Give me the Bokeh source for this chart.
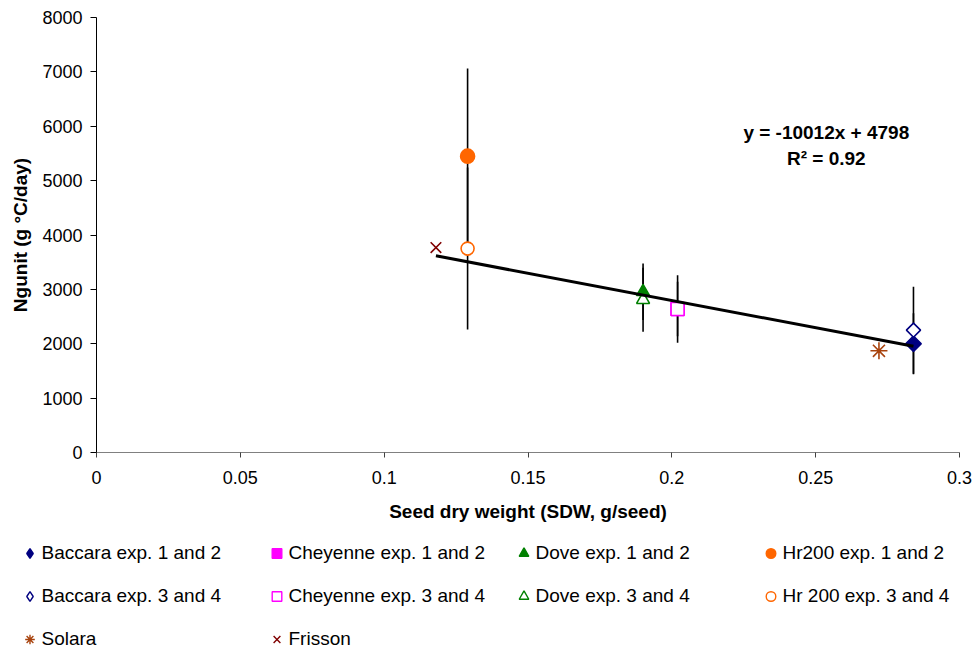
import math
from bokeh.plotting import figure
from bokeh.layouts import column
from bokeh.models import FixedTicker, Range1d, Legend, LegendItem, Label
from bokeh.embed import file_html
from bokeh.resources import INLINE

# ---- data ----
series_names = ["Baccara exp. 1 and 2", "Cheyenne exp. 1 and 2", "Dove exp. 1 and 2", "Hr200 exp. 1 and 2",
                "Baccara exp. 3 and 4", "Cheyenne exp. 3 and 4", "Dove exp. 3 and 4", "Hr 200 exp. 3 and 4",
                "Solara", "Frisson"]
sdw = [0.284, 0.202, 0.190, 0.129, 0.284, 0.202, 0.190, 0.129, 0.272, 0.118]
ngunit = [2000, 2640, 2955, 5450, 2250, 2640, 2810, 3750, 1870, 3770]
ngunit_err = [560, 620, 520, 1610, 800, 500, 590, 1490, 0, 0]

reg_slope = -10012
reg_intercept = 4798
reg_text = ["y = -10012x + 4798", "R\u00b2 = 0.92"]

x_ticks = [0, 0.05, 0.1, 0.15, 0.2, 0.25, 0.3]
x_tick_labels = ["0", "0.05", "0.1", "0.15", "0.2", "0.25", "0.3"]
y_ticks = [0, 1000, 2000, 3000, 4000, 5000, 6000, 7000, 8000]

# ---- styles ----
NAVY, MAG, GRN, ORG, SOL, FRI = "#000080", "#FF00FF", "#008000", "#FF6600", "#A8430E", "#800000"
styles = [
    dict(marker="square", legend_marker="diamond", size=11, fill_color=NAVY, line_color=NAVY, angle=math.pi / 4),
    dict(marker="square", legend_marker="square", size=13, fill_color=MAG, line_color=MAG, angle=0),
    dict(marker="triangle", legend_marker="triangle", size=13, fill_color=GRN, line_color=GRN, angle=0),
    dict(marker="circle", legend_marker="circle", size=14, fill_color=ORG, line_color=ORG, angle=0),
    dict(marker="square", legend_marker="diamond", size=10, fill_color="white", line_color=NAVY, angle=math.pi / 4),
    dict(marker="square", legend_marker="square", size=13, fill_color="white", line_color=MAG, angle=0),
    dict(marker="triangle", legend_marker="triangle", size=13, fill_color="white", line_color=GRN, angle=0),
    dict(marker="circle", legend_marker="circle", size=13, fill_color="white", line_color=ORG, angle=0),
    dict(marker="asterisk", legend_marker="asterisk", size=17, fill_color=None, line_color=SOL, angle=0),
    dict(marker="x", legend_marker="x", size=15, fill_color=None, line_color=FRI, angle=0),
]
draw_order = [0, 1, 6, 2, 3, 4, 5, 7, 8, 9]

FONT = "Liberation Sans"

p = figure(width=973, height=530, output_backend="svg", toolbar_location=None,
           x_range=Range1d(0, 0.3), y_range=Range1d(0, 8000),
           min_border_left=96, min_border_right=14, min_border_top=17, min_border_bottom=78)
p.frame_align = False
p.outline_line_color = None
p.xgrid.visible = False
p.ygrid.visible = False

# axes
p.xaxis.ticker = FixedTicker(ticks=x_ticks)
p.xaxis.major_label_overrides = dict(zip(x_ticks, x_tick_labels))
p.yaxis.ticker = FixedTicker(ticks=y_ticks)
for ax in (p.xaxis, p.yaxis):
    ax.minor_tick_line_color = None
    ax.major_tick_in = 0
    ax.major_label_text_font = FONT
    ax.major_label_text_font_size = "18px"
    ax.major_label_text_color = "black"
    ax.axis_label_text_font = FONT
    ax.axis_label_text_font_size = "19px"
    ax.axis_label_text_font_style = "bold"
    ax.axis_label_text_color = "black"
p.xaxis.major_tick_out = 5
p.yaxis.major_tick_out = 6
p.xaxis.axis_line_color = "#808080"
p.xaxis.major_tick_line_color = "#404040"
p.yaxis.axis_line_color = "black"
p.xaxis.axis_label = "Seed dry weight (SDW, g/seed)"
p.yaxis.axis_label = "Ngunit (g \u00b0C/day)"
p.xaxis.major_label_standoff = 13
p.xaxis.axis_label_standoff = 14
p.yaxis.major_label_standoff = 8
p.yaxis.axis_label_standoff = 8

# error bars
eb_x = [x for x, e in zip(sdw, ngunit_err) if e > 0]
eb_lo = [y - e for y, e in zip(ngunit, ngunit_err) if e > 0]
eb_hi = [y + e for y, e in zip(ngunit, ngunit_err) if e > 0]
p.segment(x0=eb_x, y0=eb_lo, x1=eb_x, y1=eb_hi, line_color="black", line_width=1.6)

# markers
for i in draw_order:
    st = styles[i]
    p.scatter(x=[sdw[i]], y=[ngunit[i]], marker=st["marker"], size=st["size"],
              fill_color=st["fill_color"], line_color=st["line_color"], line_width=1.6,
              angle=st["angle"])

# regression line (drawn over markers)
rx = [min(sdw), max(sdw)]
ry = [reg_slope * v + reg_intercept for v in rx]
p.line(rx, ry, line_color="black", line_width=3)

# equation
p.add_layout(Label(x=0.2537, y=5885, text=reg_text[0], text_align="center", text_baseline="middle",
                   text_font=FONT, text_font_size="19px", text_font_style="bold", text_color="black"))
p.add_layout(Label(x=0.2537, y=5400, text=reg_text[1], text_align="center", text_baseline="middle",
                   text_font=FONT, text_font_size="19px", text_font_style="bold", text_color="black"))

# ---- legend panel (its own figure below the chart) ----
# The proxy glyphs reuse the real data; the panel's x range lies beyond the data,
# so only their legend swatches are visible.
p2 = figure(width=973, height=119, output_backend="svg", toolbar_location=None,
            x_range=Range1d(1, 2), y_range=Range1d(0, 8000),
            x_axis_location=None, y_axis_location=None,
            min_border_left=0, min_border_right=0, min_border_top=0, min_border_bottom=0)
p2.frame_align = False
p2.outline_line_color = None
p2.xgrid.visible = False
p2.ygrid.visible = False
leg_renderers = []
for i in range(len(series_names)):
    st = styles[i]
    leg_renderers.append(p2.scatter(x=[sdw[i]], y=[ngunit[i]], marker=st["legend_marker"], size=st["size"],
                                    fill_color=st["fill_color"], line_color=st["line_color"],
                                    line_width=1.4))

legend = Legend(items=[LegendItem(label=n, renderers=[r]) for n, r in zip(series_names, leg_renderers)],
                location=(16.5, -2), orientation="horizontal", ncols=4,
                glyph_width=25, glyph_height=24, label_standoff=0, label_width=203,
                spacing=19, padding=0, margin=0, border_line_color=None,
                background_fill_alpha=0, label_text_font=FONT, label_text_font_size="19px",
                label_text_color="black")
p2.add_layout(legend)

open("out.html", "w").write(file_html(column(p, p2, spacing=0), INLINE))
